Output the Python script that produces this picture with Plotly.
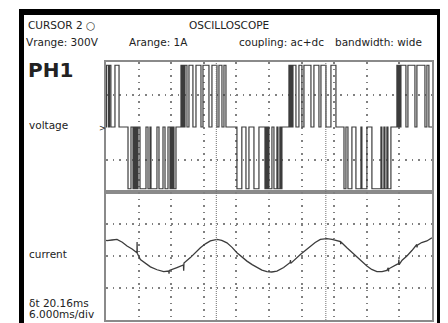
import plotly.graph_objects as go

# ---------------- data ----------------
# time axis: 10 divisions of 6 ms
time_range_ms = [0, 60]
time_per_div_ms = 6

# voltage: unipolar PWM pulses (start_ms, end_ms), amplitude in divisions
pulse_amplitude = 1.9
pos_pulses = [
    [0.1, 0.45], [0.65, 0.9], [1.65, 2.4],
    [13.8, 13.98], [14.17, 14.35], [14.54, 14.9], [15.27, 16.0], [16.56, 17.48],
    [17.85, 18.95], [19.5, 20.42], [20.79, 21.34], [21.71, 22.08],
    [33.67, 33.86], [34.04, 34.22], [34.41, 34.96], [35.51, 36.06], [36.43, 37.72],
    [38.27, 39.19], [39.56, 40.48], [41.4, 42.32],
    [53.54, 53.73], [53.9, 54.1], [54.28, 55.2], [55.57, 56.86], [57.22, 58.7],
    [59.06, 59.43],
]
neg_pulses = [
    [4.05, 4.6], [4.97, 5.15], [5.34, 5.52], [5.70, 5.89], [6.26, 7.36],
    [7.73, 8.10], [8.28, 9.38], [9.75, 10.49], [10.86, 11.41], [11.78, 11.96],
    [12.14, 12.33], [12.51, 12.88],
    [24.1, 25.0], [25.76, 26.31], [27.23, 28.15], [29.26, 29.44], [29.62, 29.81],
    [29.99, 30.54], [30.91, 31.46], [31.65, 32.0], [32.2, 32.38],
    [43.8, 44.16], [44.53, 45.26], [46.0, 46.92], [47.1, 48.02], [48.94, 50.6],
    [50.78, 51.15], [51.34, 51.7], [51.89, 52.44],
]

# current (divisions), read point by point; repeated times are glitches
current_t = [0.0, 0.18, 1.1, 2.02, 3.0, 3.87, 4.8, 5.7, 5.72, 5.76, 5.78, 6.33, 7.2, 8.17,
             9.4, 10.62, 11.55, 11.6, 11.65, 13.06, 14.25, 14.3, 14.35, 15.53, 16.4,
             17.37, 18.3, 19.21, 20.42, 21.3, 22.26, 23.2, 24.1, 25.0, 25.94, 26.9,
             27.78, 28.7, 29.62, 30.5, 31.46, 32.7, 33.9, 33.95, 34.0, 35.77, 36.7,
             37.61, 38.5, 39.45, 40.66, 41.6, 42.5, 43.15, 43.2, 43.25, 44.34, 45.3,
             46.18, 47.1, 48.02, 48.9, 49.86, 50.8, 51.7, 51.95, 52.0, 52.05, 53.54,
             53.85, 53.9, 53.95, 54.5, 55.38, 56.3, 57.2, 57.25, 57.3, 58.1, 59.06, 59.98]
current_v = [0.49, 0.48, 0.50, 0.52, 0.43, 0.31, 0.22, 0.10, 0.44, 0.07, 0.08, -0.11, -0.23, -0.34,
             -0.43, -0.49, -0.47, -0.55, -0.45, -0.36, -0.28, -0.46, -0.22, -0.05, 0.11,
             0.26, 0.38, 0.47, 0.52, 0.49, 0.41, 0.27, 0.10, -0.03, -0.16, -0.27,
             -0.36, -0.44, -0.49, -0.50, -0.47, -0.36, -0.20, -0.13, -0.23, 0.05, 0.18,
             0.31, 0.42, 0.52, 0.54, 0.52, 0.47, 0.45, 0.37, 0.44, 0.26, 0.11,
             -0.05, -0.19, -0.31, -0.42, -0.49, -0.49, -0.45, -0.37, -0.48, -0.40, -0.26,
             -0.24, -0.11, -0.27, -0.13, 0.0, 0.17, 0.36, 0.27, 0.34, 0.42, 0.47, 0.57]

cursor_times_ms = [20.3, 40.46]

# texts
header_left = "CURSOR 2 ○"
header_title = "OSCILLOSCOPE"
settings = ["Vrange: 300V", "Arange: 1A", "coupling: ac+dc", "bandwidth: wide"]
channel = "PH1"
trace_names = ["voltage", "current"]
delta_t_text = "δt 20.16ms"
timebase_text = "6.000ms/div"

# ---------------- build the voltage step trace ----------------
vt, vv = [time_range_ms[0]], [0]
edges = [(a, b, 1) for a, b in pos_pulses] + [(a, b, -1) for a, b in neg_pulses]
edges.sort()
for a, b, s in edges:
    vt += [a, a, b, b]
    vv += [0, s * pulse_amplitude, s * pulse_amplitude, 0]
vt.append(time_range_ms[1])
vv.append(0)

# the page places the figure 8 px in from the top-left corner
OFF = 8
W, H = 440, 315
def px(x):
    return (x - OFF) / W
def py(y):
    return 1 - (y - OFF) / H

fig = go.Figure()
fig.add_trace(go.Scatter(x=vt, y=vv, mode="lines", xaxis="x", yaxis="y",
                         line=dict(color="#3c3c3c", width=1.2), hoverinfo="skip"))
fig.add_trace(go.Scatter(x=current_t, y=current_v, mode="lines", xaxis="x2", yaxis="y2",
                         line=dict(color="#3c3c3c", width=1.3), hoverinfo="skip"))

grid = dict(showgrid=True, gridcolor="#808080", gridwidth=1.5, griddash="1.5px,5px",
            showline=True, mirror=True, linecolor="#8a8a8a", linewidth=1.6,
            showticklabels=False, ticks="", zeroline=False, fixedrange=True)

x_dom = [px(106), px(432)]
fig.update_layout(
    width=W, height=H, autosize=False,
    margin=dict(l=0, r=0, t=0, b=0),
    paper_bgcolor="white", plot_bgcolor="white",
    showlegend=False,
    font=dict(family="DejaVu Sans", color="#222"),
    xaxis=dict(domain=x_dom, range=time_range_ms, dtick=time_per_div_ms, anchor="y", **grid),
    xaxis2=dict(domain=x_dom, range=time_range_ms, dtick=time_per_div_ms, anchor="y2",
                matches="x", **grid),
    yaxis=dict(domain=[py(192), py(62)], range=[-2, 2], tickvals=[-1, 1], anchor="x", **grid),
    yaxis2=dict(domain=[py(320), py(192)], range=[-2, 2], tickvals=[-1, 0, 1], anchor="x2", **grid),
)

shapes = []
# cursor lines
for ct in cursor_times_ms:
    shapes.append(dict(type="line", xref="x", yref="paper", x0=ct, x1=ct,
                       y0=py(320), y1=py(62), line=dict(color="#707070", width=1, dash="1px,1px")))
# black frame bands
shapes.append(dict(type="rect", xref="paper", yref="paper", x0=px(19), x1=px(24), y0=0, y1=py(9),
                   fillcolor="black", line=dict(width=0)))
shapes.append(dict(type="rect", xref="paper", yref="paper", x0=px(19), x1=px(443), y0=py(15), y1=py(9),
                   fillcolor="black", line=dict(width=0)))
shapes.append(dict(type="rect", xref="paper", yref="paper", x0=px(437), x1=px(443), y0=0, y1=py(9),
                   fillcolor="black", line=dict(width=0)))
fig.update_layout(shapes=shapes)

ann = []
def text(t, x, y, size=10.5, anchor="left", **kw):
    ann.append(dict(text=t, x=px(x), y=py(y), xref="paper", yref="paper", showarrow=False,
                    xanchor=anchor, yanchor="middle", font=dict(size=size, **kw)))

text(header_left, 26, 25)
text(header_title, 229, 25, anchor="center")
for s, x in zip(settings, [24, 127, 237, 333]):
    text(s, x, 42)
text(channel, 26, 70, size=20, weight=600)
text(trace_names[0], 27, 125)
text(trace_names[1], 27, 254)
text(delta_t_text, 27, 303)
text(timebase_text, 27, 314)
text(">", 102, 128, size=8, anchor="center")
fig.update_layout(annotations=ann)

fig.write_html("out.html")
